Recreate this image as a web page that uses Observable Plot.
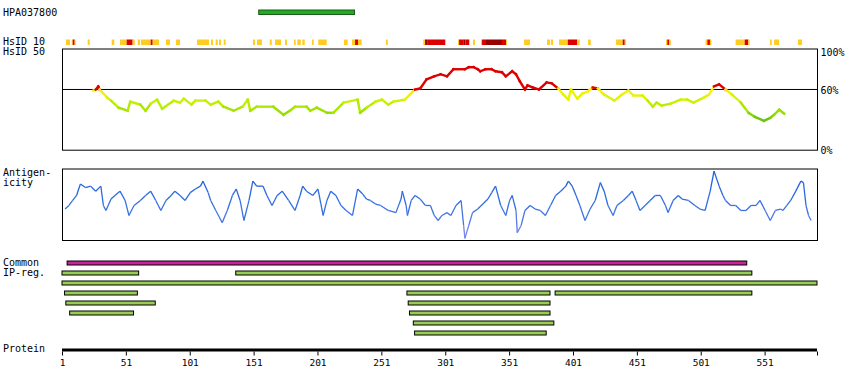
<!DOCTYPE html>
<html><head><meta charset="utf-8">
<script src="https://cdn.jsdelivr.net/npm/d3@7"></script>
<script src="https://cdn.jsdelivr.net/npm/@observablehq/plot@0.6"></script>
<style>
body{margin:0;background:#fff;}
#chart{position:relative;width:850px;height:390px;font-family:"DejaVu Sans Mono",monospace;font-size:10px;color:#000;}
#chart svg{position:absolute;left:0;top:0;}
.lbl{position:absolute;left:3px;line-height:10px;white-space:pre;font-size:10px;}
</style></head><body><div id="chart"></div>
<script>
// ---------- data ----------
const proteinLength = 592;
const antibodyName = "HPA037800";
const antigenRange = [155, 230];
const axisTicks = [1, 51, 101, 151, 201, 251, 301, 351, 401, 451, 501, 551];
const pctTicks = [0, 60, 100];
// HsID 10 strip: [start, end, level] level 1=yellow 2=red 3=dark red
const hsid10 = [
 [4.1,7.3,1],[8.6,9.4,1],[9.4,10.9,2],[10.9,11.7,1],[21.1,22.7,1],[39.9,41.9,1],
 [46.4,51.6,1],[51.6,56.3,2],[56.3,57.9,1],[60.3,62.1,1],[62.8,70.4,1],[70.4,72.0,2],[72.0,76.9,1],
 [82.4,85.5,1],[90.2,93.4,1],[106.7,116.1,1],[117.6,119.2,1],[121.3,122.9,1],[123.9,125.5,1],
 [127.6,129.1,1],[150.5,152.1,1],[153.6,157.5,1],[163.6,165.2,1],[167.7,172.4,1],[175.6,177.1,1],
 [182.6,183.9,1],[185.2,187.9,1],[189.1,191.0,1],[196.7,198.0,1],[201.6,208.2,1],[221.7,224.6,1],
 [228.0,230.4,1],[230.4,232.7,2],[232.7,235.6,1],[254.6,256.0,1],
 [283.8,285.2,1],[285.2,287.3,3],[287.3,300.8,2],[300.8,301.6,1],
 [311.0,311.8,1],[311.8,315.1,2],[315.1,316.7,3],[316.7,319.6,2],[319.6,320.4,1],[322.7,324.3,1],
 [329.0,329.8,1],[329.8,332.9,2],[332.9,345.4,3],[345.4,348.6,2],[348.6,349.3,1],
 [362.7,367.4,1],[380.7,383.1,1],[383.8,385.4,1],[390.1,396.9,1],[396.9,404.2,2],[404.2,406.3,1],
 [412.8,414.9,1],[434.7,439.9,1],[439.9,441.5,2],[441.5,442.5,1],[473.8,474.8,1],[474.8,476.4,2],[476.4,477.5,1],
 [504.8,506.2,1],[506.2,508.2,2],[508.2,509.3,1],[528.3,535.4,1],[535.4,538.2,2],[538.2,539.3,1],
 [555.2,556.6,1],[558.4,562.3,1],[577.1,580.3,1]
];
const levelColors = {1: "#ffcc22", 2: "#dd0000", 3: "#990000"};
// HsID 50 identity (%)
const hsid50Pos = [25,27,29,30,36,39,45,52,54,62,66,70,75,79,88,93,96,102,105,113,117,123,127,135,142,146,148,153,166,174,179,183,192,195,200,208,213,221,232,234,239,246,251,256,260,269,277,281,286,292,297,302,307,316,319,323,326,328,332,337,340,345,348,353,356,359,363,365,369,374,380,384,389,393,397,399,404,408,412,416,420,425,433,439,444,448,455,459,463,466,470,477,485,490,495,503,507,511,515,520,525,532,538,543,550,555,558,562,566];
const hsid50Val = [59,60,63,60,52,49,42,39,48,45,39,46,50,41,49,47,51,45,49,49,45,48,43,39,43,50,39,43,43,35,39,43,43,39,42,37,37,47,50,37,42,48,50,45,48,50,60,61,70,73,75,73,80,80,82,82,80,78,80,80,78,77,73,78,75,68,60,64,62,60,67,66,61,55,50,60,51,56,58,62,61,55,49,55,59,54,54,49,43,47,44,46,50,50,47,52,55,63,65,60,55,47,37,33,29,32,35,40,36];
// Antigenicity (relative score 0-100)
const antigenPos = [3,6,9,12,15,19,23,27,31,33,35,39,42,46,50,53,57,62,66,70,74,78,82,86,89,93,97,101,105,109,111,115,117,121,126,130,134,137,140,143,147,150,153,158,161,165,169,173,178,183,187,189,192,197,201,205,208,211,215,219,223,228,232,236,239,242,246,250,256,262,266,267,270,271,274,277,281,285,289,292,295,298,302,305,309,313,315,316,319,322,326,330,334,337,340,344,348,351,353,356,357,360,363,367,371,375,379,383,387,391,395,397,400,403,406,410,414,418,422,425,428,432,435,440,444,447,450,453,457,461,465,469,473,475,479,483,486,491,496,500,504,508,511,515,518,520,524,528,532,536,540,544,547,551,555,559,563,565,568,571,575,579,581,583,585,587];
const antigenVal = [44,49,56,63,79,74,76,69,76,49,42,58,63,69,56,35,49,56,63,69,56,42,56,63,69,63,56,67,72,76,83,67,56,42,25,42,63,72,56,28,56,83,76,76,63,49,63,69,56,42,63,76,69,63,72,35,56,69,63,49,42,35,72,65,58,56,51,49,42,39,58,69,49,35,56,63,58,49,49,35,28,35,39,35,49,56,21,3,21,39,44,51,58,67,76,49,35,56,63,42,11,21,42,49,44,42,35,49,63,69,76,83,76,63,49,28,44,56,81,69,49,35,49,56,63,69,56,42,49,56,63,63,49,39,56,63,58,56,49,44,42,69,97,76,63,56,49,49,42,42,49,49,56,42,28,42,44,42,49,56,69,83,81,49,35,28];
// Common / IP-reg regions: [row, start, end]
const commonRegions = [[0, 5, 537]];
const ipRegions = [[1,1,61],[1,137,541],[2,1,592],[3,3,60],[3,271,383],[3,387,541],[4,4,74],[4,272,383],[5,7,57],[5,273,383],[6,276,386],[7,277,380]];

// ---------- helpers ----------
const W = 850, H = 390;
const base = {width: W, height: H, marginLeft: 62, marginRight: 33,
  style: "background:transparent;overflow:visible;font-family:'DejaVu Sans Mono',monospace;font-size:10px;"};
const xs = {domain: [1, proteinLength], axis: null};
const chart = document.getElementById("chart");
function layer(top, bottom, opts) {
  const svg = Plot.plot({...base, marginTop: top, marginBottom: H - bottom, x: xs, ...opts});
  chart.appendChild(svg);
}
function segs(pos, val) {
  return d3.range(pos.length - 1).map(i => ({x1: pos[i], x2: pos[i+1], y1: val[i], y2: val[i+1], v: (val[i] + val[i+1]) / 2}));
}
const identColor = d3.scaleLinear().domain([60, 52, 44, 36, 28]).range(["#ffee11", "#ddf500", "#b4ec00", "#8cdc00", "#5cb814"]).clamp(true);
const antiColor = d3.scaleLinear().domain([0, 40, 100]).range(["#8f8ce8", "#3d74e4", "#155ddc"]).clamp(true);
const pctText = {frameAnchor: "right", dx: 3, textAnchor: "start", text: d => d + "%", fill: "black", fontSize: 10};

// HPA antigen bar
layer(10, 14.5, {y: {axis: null}, marks: [
  Plot.rect([antigenRange], {x1: d => d[0], x2: d => d[1], fill: "#22aa22", stroke: "#1a5a1a", strokeWidth: 1})
]});
// HsID 10 strip
layer(39.5, 45, {y: {axis: null}, marks: [
  Plot.rect(hsid10, {x1: d => d[0], x2: d => d[1], fill: d => levelColors[d[2]]})
]});
// HsID 50 panel
layer(48.5, 149.7, {y: {domain: [0, 100], axis: null}, marks: [
  Plot.frame({stroke: "black", strokeWidth: 1}),
  Plot.ruleY([60], {stroke: "black", strokeWidth: 1}),
  Plot.link(segs(hsid50Pos, hsid50Val), {x1: "x1", x2: "x2", y1: "y1", y2: "y2",
    stroke: d => d.v > 60 ? "#dd0000" : identColor(d.v), strokeWidth: 2.4, strokeLinecap: "square"}),
  Plot.text(pctTicks.filter(d => d === 100), {y: d => d, dy: 4, ...pctText}),
  Plot.text(pctTicks.filter(d => d !== 100), {y: d => d, dy: 1, ...pctText})
]});
// Antigenicity panel
layer(168.5, 240, {y: {domain: [0, 100], axis: null}, marks: [
  Plot.frame({stroke: "black", strokeWidth: 1}),
  Plot.link(segs(antigenPos, antigenVal), {x1: "x1", x2: "x2", y1: "y1", y2: "y2",
    stroke: d => antiColor(d.v), strokeWidth: 1.3})
]});
// Common + IP-reg bars
chart.appendChild(Plot.plot({...base, marginTop: 250, marginBottom: 50, x: xs,
  y: {type: "band", domain: d3.range(8), range: [257.25, 337.25], paddingInner: 0.65, paddingOuter: 0.325, axis: null},
  marks: [
    Plot.barX(commonRegions, {y: d => d[0], x1: d => d[1], x2: d => d[2], fill: "#cc2299", stroke: "black", strokeWidth: 1}),
    Plot.barX(ipRegions, {y: d => d[0], x1: d => d[1], x2: d => d[2], fill: "#99cc55", stroke: "black", strokeWidth: 1})
  ]}));
// Protein axis
layer(348.5, 351.5, {y: {axis: null}, marks: [
  Plot.rect([[1, proteinLength]], {x1: d => d[0], x2: d => d[1], fill: "black"}),
  Plot.axisX([...axisTicks, proteinLength], {anchor: "bottom", tickSize: 4, tickPadding: 3, fontSize: 9.5,
    fontFamily: "DejaVu Sans Mono", tickFormat: d => d === proteinLength ? "" : String(d), stroke: "black", fill: "black"})
]});

// left labels (HTML text)
const labels = [[antibodyName, 7.5], ["HsID 10", 36.8], ["HsID 50", 46.8], ["Antigen-", 167.5], ["icity", 177.5],
  ["Common", 257.5], ["IP-reg.", 268.2], ["Protein", 344.2]];
for (const [t, top] of labels) {
  const d = document.createElement("div");
  d.className = "lbl"; d.style.top = top + "px"; d.textContent = t;
  chart.appendChild(d);
}
</script>
</body></html>
